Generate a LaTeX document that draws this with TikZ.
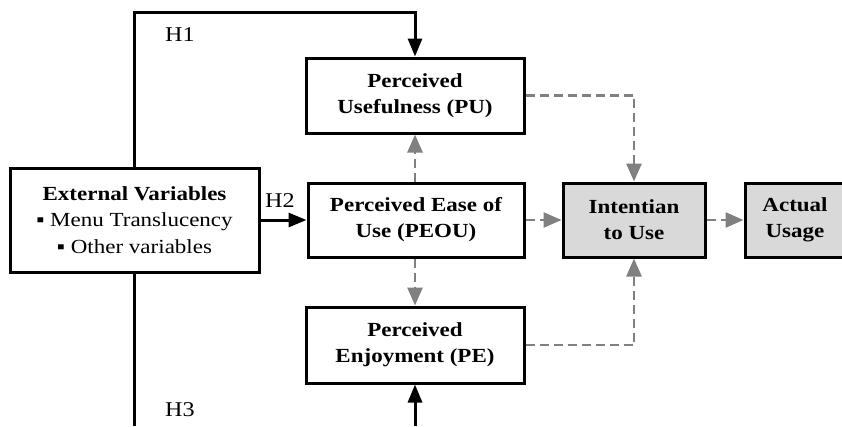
\documentclass[tikz,border=0pt]{standalone}
\usepackage{fontspec}
\setmainfont{Liberation Serif}
\newfontfamily\wideserif[FakeStretch=1.15]{Liberation Serif}
\usetikzlibrary{arrows.meta}
\begin{document}
\begin{tikzpicture}[x=1pt,y=-1pt,
  box/.style={draw=black,line width=3pt,align=center,inner sep=0pt,
    font=\wideserif\fontsize{20}{26}\selectfont\bfseries},
  graybox/.style={box,fill=black!15},
  blk/.style={draw=black,line width=3pt,-{Triangle[width=14pt,length=18pt]}},
  blkline/.style={draw=black,line width=3pt},
  gry/.style={draw=black!50,line width=2.6pt,dash pattern=on 9pt off 5pt,
    -{Triangle[width=15pt,length=18pt]}},
  hlab/.style={font=\wideserif\fontsize{21}{24}\selectfont,inner sep=0pt}]
\useasboundingbox (0,0) rectangle (842,426);
\node[box,minimum width=249,minimum height=104,
  font=\wideserif\fontsize{20}{26.5}\selectfont] (ext) at (134.5,220)
  {\textbf{External Variables}\\ ▪ Menu Translucency\\ ▪ Other variables};
\node[box,minimum width=218,minimum height=75] (pu) at (415,95.5)
  {Perceived\\ Usefulness (PU)};
\node[box,minimum width=216,minimum height=74] (peou) at (416,220)
  {Perceived Ease of\\ Use (PEOU)};
\node[box,minimum width=218,minimum height=76] (pe) at (415,345)
  {Perceived\\ Enjoyment (PE)};
\node[graybox,minimum width=142,minimum height=74] (int) at (634,220)
  {Intentian\\ to Use};
\node[graybox,minimum width=100,minimum height=74] (act) at (795,220)
  {Actual\\ Usage};
\coordinate (top) at (415,12);
\coordinate (botl) at (134.5,426);
\coordinate (botr) at (415,426);
\draw[blk] (ext.north) |- (top) -- (pu.north);
\draw[blk] (ext.east) -- (peou.west);
\draw[blkline] (ext.south) -- (botl);
\draw[blk] (botr) -- (pe.south);
\draw[gry] (peou.north -| pu.south) -- (pu.south);
\draw[gry] (peou.south -| pe.north) -- (pe.north);
\draw[gry] (pu.east) -| (int.north);
\draw[gry] (pe.east) -| (int.south);
\draw[gry] (peou.east) -- (int.west);
\draw[gry] (int.east) -- (act.west);
\node[hlab] (h1) at (180,35) {H1};
\node[hlab] (h2) at (280,201) {H2};
\node[hlab] (h3) at (180,410) {H3};
\end{tikzpicture}
\end{document}
